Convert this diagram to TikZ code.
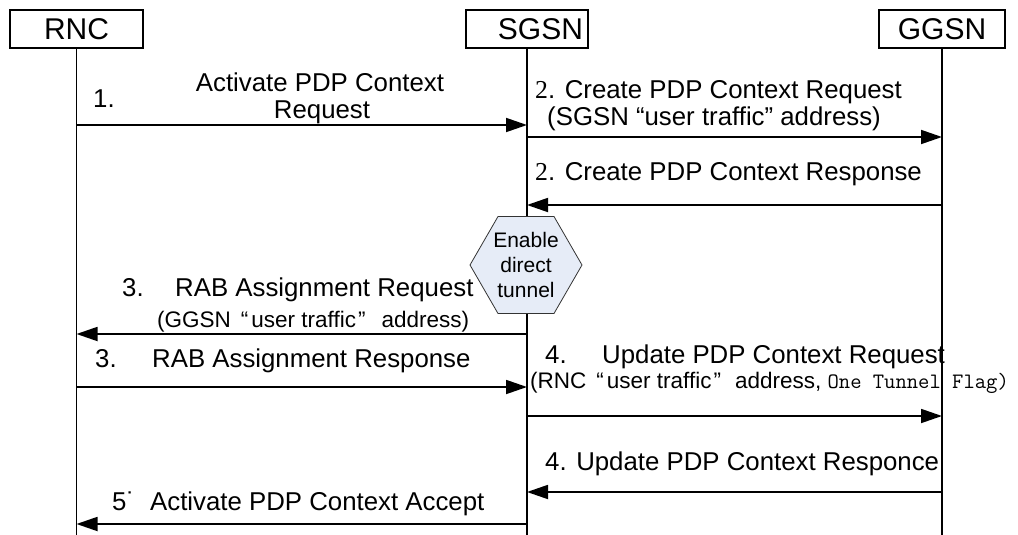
\documentclass[tikz,border=0pt]{standalone}
\usepackage{fontspec}
\setmainfont{Liberation Sans}
\newfontfamily\serifdigit{Liberation Serif}
\usetikzlibrary{arrows.meta,shapes.geometric}
\definecolor{hexfill}{RGB}{230,236,247}
\begin{document}
\begin{tikzpicture}[x=1pt,y=-1pt,
  hdr/.style={draw,line width=1.2pt,minimum height=38pt,inner sep=0pt,font=\fontsize{30}{30}\selectfont},
  life/.style={line width=1.5pt},
  msg/.style={line width=1.8pt,-{Triangle[length=21pt,width=14pt]}},
  lbl/.style={inner sep=0pt,anchor=base west,font=\fontsize{25.8}{30}\selectfont},
  sml/.style={inner sep=0pt,anchor=base west,font=\fontsize{22.5}{24}\selectfont},
  hexbox/.style={regular polygon,regular polygon sides=6,draw=black!80,line width=0.8pt,fill=hexfill,minimum size=112pt,inner sep=0pt,align=center,font=\fontsize{21}{25}\selectfont}
  ]
\useasboundingbox (0,0) rectangle (1018,535);
\def\RX{76.5}\def\SX{527}\def\GX{942}
% headers
\node[hdr,minimum width=133pt] (rnc) at (\RX,29) {RNC};
\node[hdr,minimum width=122pt,text width=112pt,align=right] (sgsn) at (\SX,29) {SGSN};
\node[hdr,minimum width=126pt] (ggsn) at (\GX,29) {GGSN};
% lifelines
\coordinate (rncb) at (\RX,535);
\coordinate (sgsnb) at (\SX,535);
\coordinate (ggsnb) at (\GX,535);
\draw[life] (rnc.south) -- (rncb);
\draw[life] (sgsn.south) -- (sgsnb);
\draw[life] (ggsn.south) -- (ggsnb);
% hexagon
\node[hexbox] (hex) at (526,265) {Enable\\direct\\tunnel};
% message end points
\coordinate (m1a) at (\RX,125); \coordinate (m1b) at (\SX,125);
\coordinate (m2a) at (\SX,137); \coordinate (m2b) at (\GX,137);
\coordinate (m3a) at (\GX,205); \coordinate (m3b) at (\SX,205);
\coordinate (m4a) at (\SX,334); \coordinate (m4b) at (\RX,334);
\coordinate (m5a) at (\RX,387); \coordinate (m5b) at (\SX,387);
\coordinate (m6a) at (\SX,416); \coordinate (m6b) at (\GX,416);
\coordinate (m7a) at (\GX,492); \coordinate (m7b) at (\SX,492);
\coordinate (m8a) at (\SX,524); \coordinate (m8b) at (\RX,524);
\draw[msg] (m1a) -- (m1b);
\draw[msg] (m2a) -- (m2b);
\draw[msg] (m3a) -- (m3b);
\draw[msg] (m4a) -- (m4b);
\draw[msg] (m5a) -- (m5b);
\draw[msg] (m6a) -- (m6b);
\draw[msg] (m7a) -- (m7b);
\draw[msg] (m8a) -- (m8b);
% labels
\node[lbl] (l1n) at (93,107) {1.};
\node[lbl,anchor=base] (l1a) at (320,92) {Activate PDP Context};
\node[lbl,anchor=base] (l1b) at (322,118) {Request};
\node[lbl] (l2a) at (535,99) {{\serifdigit 2}. Create PDP Context Request};
\node[lbl] (l2b) at (547,125) {(SGSN “user traffic” address)};
\node[lbl] (l2r) at (535,180) {{\serifdigit 2}. Create PDP Context Response};
\node[lbl] (l3n) at (122,296) {3.};
\node[lbl] (l3a) at (175,296) {RAB Assignment Request};
\node[sml] (l3b) at (157,327) {(GGSN\hspace{10pt}“\hspace{3pt}user traffic\hspace{2pt}”\hspace{16pt}address)};
\node[lbl] (l3rn) at (95,367) {3.};
\node[lbl] (l3r) at (152,367) {RAB Assignment Response};
\node[lbl] (l4n) at (545,363) {4.};
\node[lbl] (l4a) at (602,363) {Update PDP Context Request};
\node[sml] (l4b) at (530,388) {(RNC\hspace{10pt}“\hspace{3pt}user traffic\hspace{2pt}”\hspace{14pt}address, {\ttfamily\fontsize{22}{24}\selectfont One Tunnel Flag)}};
\node[lbl] (l4r) at (545,470) {4. Update PDP Context Responce};
\node[lbl] (l5n) at (112,510) {5˙};
\node[lbl] (l5a) at (150,510) {Activate PDP Context Accept};
\end{tikzpicture}
\end{document}
